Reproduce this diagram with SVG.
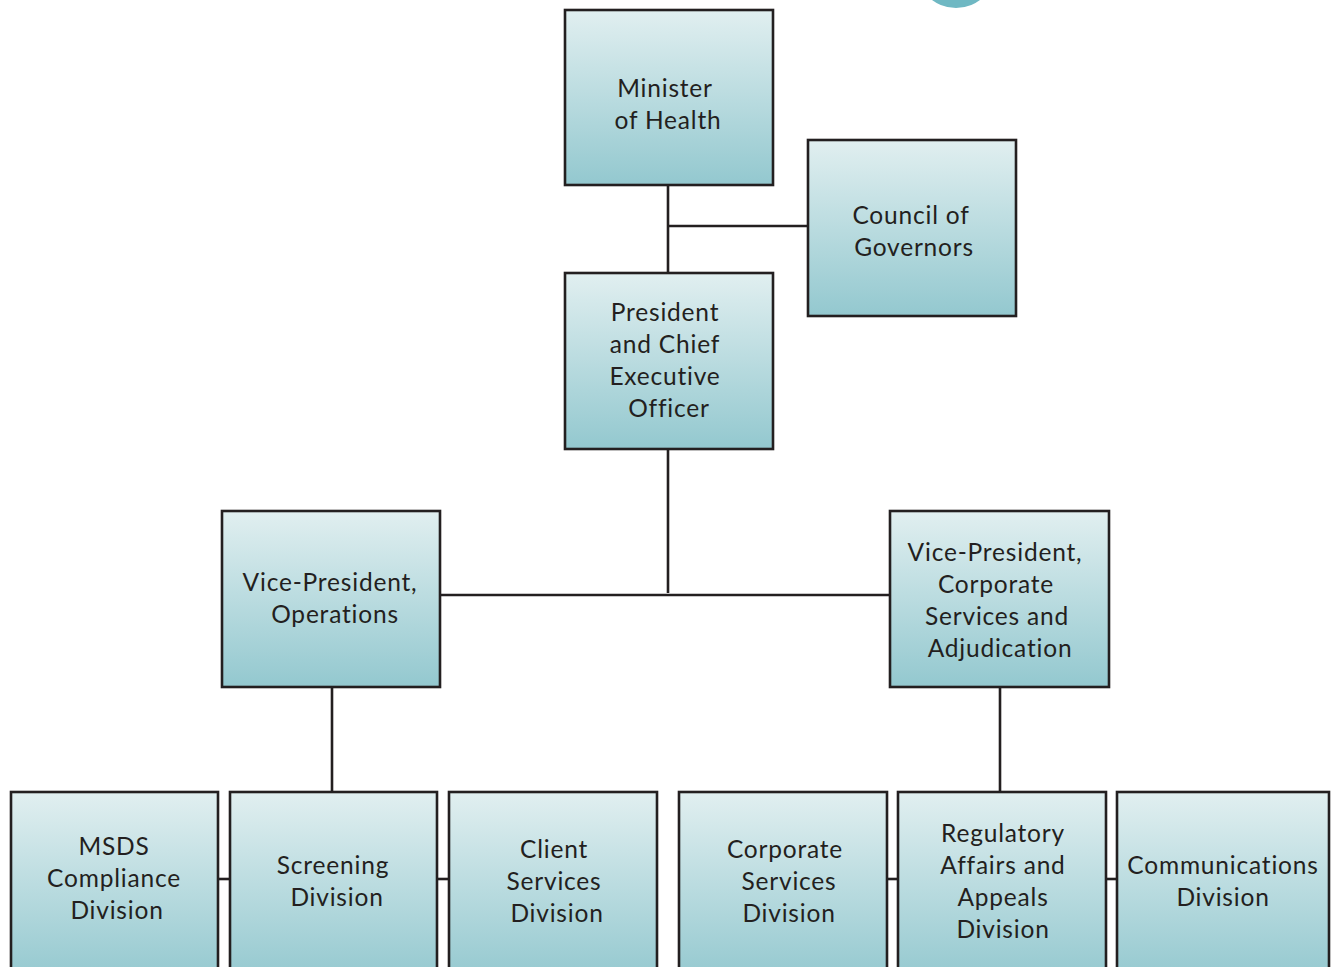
<svg xmlns="http://www.w3.org/2000/svg" width="1335" height="967" viewBox="0 0 1335 967">
  <defs>
    <linearGradient id="boxFill" x1="0" y1="0" x2="0" y2="1">
      <stop offset="0" stop-color="#e1eff0"/>
      <stop offset="1" stop-color="#93c8cf"/>
    </linearGradient>
    <style>
      .box { fill: url(#boxFill); stroke: #231f20; stroke-width: 2.6; }
      .lbl { font-family: Lato, "Open Sans", "Liberation Sans", sans-serif; font-size: 24.5px; letter-spacing: 0.8px; font-variant-ligatures: none; fill: #231f20; text-anchor: middle; }
      .conn { stroke: #231f20; stroke-width: 2.6; fill: none; }
    </style>
  </defs>
  <rect width="1335" height="967" fill="#ffffff"/>

  <!-- decorative disc at the top edge -->
  <circle cx="956" cy="-32" r="40" fill="#6fb8c3"/>

  <!-- connectors -->
  <g id="connectors" class="conn">
    <line x1="668" y1="185" x2="668" y2="273"/>
    <line x1="668" y1="226" x2="808" y2="226"/>
    <line x1="668" y1="449" x2="668" y2="593"/>
    <line x1="440" y1="595" x2="890" y2="595"/>
    <line x1="332" y1="687" x2="332" y2="792"/>
    <line x1="1000" y1="687" x2="1000" y2="792"/>
    <line x1="218" y1="879" x2="230" y2="879"/>
    <line x1="437" y1="879" x2="449" y2="879"/>
    <line x1="887" y1="879" x2="898" y2="879"/>
    <line x1="1106" y1="879" x2="1117" y2="879"/>
  </g>

  <g id="minister">
    <rect class="box" x="565" y="10" width="208" height="175"/>
    <text class="lbl"><tspan x="665" y="97">Minister</tspan><tspan x="668" y="129">of Health</tspan></text>
  </g>

  <g id="council">
    <rect class="box" x="808" y="140" width="208" height="176"/>
    <text class="lbl"><tspan x="911" y="224">Council of</tspan><tspan x="914" y="256">Governors</tspan></text>
  </g>

  <g id="ceo">
    <rect class="box" x="565" y="273" width="208" height="176"/>
    <text class="lbl"><tspan x="665" y="321">President</tspan><tspan x="665" y="353">and Chief</tspan><tspan x="665" y="385">Executive</tspan><tspan x="669" y="417">Officer</tspan></text>
  </g>

  <g id="vp-operations">
    <rect class="box" x="222" y="511" width="218" height="176"/>
    <text class="lbl"><tspan x="330" y="591">Vice-President,</tspan><tspan x="335" y="623">Operations</tspan></text>
  </g>

  <g id="vp-corporate">
    <rect class="box" x="890" y="511" width="219" height="176"/>
    <text class="lbl"><tspan x="995" y="561">Vice-President,</tspan><tspan x="996" y="593">Corporate</tspan><tspan x="997" y="625">Services and</tspan><tspan x="1000" y="657">Adjudication</tspan></text>
  </g>

  <g id="msds">
    <rect class="box" x="11" y="792" width="207" height="190"/>
    <text class="lbl"><tspan x="114" y="855">MSDS</tspan><tspan x="114" y="887">Compliance</tspan><tspan x="117" y="919">Division</tspan></text>
  </g>

  <g id="screening">
    <rect class="box" x="230" y="792" width="207" height="190"/>
    <text class="lbl"><tspan x="333" y="874">Screening</tspan><tspan x="337" y="906">Division</tspan></text>
  </g>

  <g id="client-services">
    <rect class="box" x="449" y="792" width="208" height="190"/>
    <text class="lbl"><tspan x="554" y="858">Client</tspan><tspan x="554" y="890">Services</tspan><tspan x="557" y="922">Division</tspan></text>
  </g>

  <g id="corporate-services">
    <rect class="box" x="679" y="792" width="208" height="190"/>
    <text class="lbl"><tspan x="785" y="858">Corporate</tspan><tspan x="789" y="890">Services</tspan><tspan x="789" y="922">Division</tspan></text>
  </g>

  <g id="regulatory">
    <rect class="box" x="898" y="792" width="208" height="190"/>
    <text class="lbl"><tspan x="1003" y="842">Regulatory</tspan><tspan x="1003" y="874">Affairs and</tspan><tspan x="1003" y="906">Appeals</tspan><tspan x="1003" y="938">Division</tspan></text>
  </g>

  <g id="communications">
    <rect class="box" x="1117" y="792" width="212" height="190"/>
    <text class="lbl"><tspan x="1223" y="874">Communications</tspan><tspan x="1223" y="906">Division</tspan></text>
  </g>
</svg>
